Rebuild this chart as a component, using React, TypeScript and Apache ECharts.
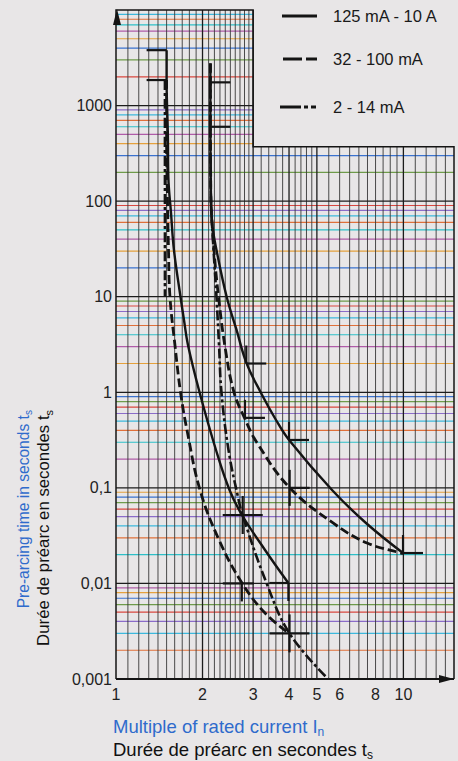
import React, { useEffect, useRef } from 'react';
import * as echarts from 'echarts';

// ---------- axes ----------
const X_MIN = 1;
const X_MAX = 15;
const Y_MIN = 0.001;
const Y_MAX = 10000;
const STEP_X = 3; // grid is cut back above this current multiple
const STEP_Y = 370; // grid height right of STEP_X

const X_TICK_VALUES = [1, 2, 3, 4, 5, 6, 8, 10];
const X_TICK_LABELS = ['1', '2', '3', '4', '5', '6', '8', '10'];
const Y_DECADES = [0.001, 0.01, 0.1, 1, 10, 100, 1000, 10000];
const Y_TICK_LABELS = ['0,001', '0,01', '0,1', '1', '10', '100', '1000', ''];

const X_GRID_LINES = [
  1.1, 1.2, 1.3, 1.4, 1.5, 1.6, 1.7, 1.8, 1.9, 2,
  2.1, 2.2, 2.3, 2.4, 2.5, 2.6, 2.7, 2.8, 2.9, 3,
  3.2, 3.4, 3.6, 3.8, 4, 4.2, 4.4, 4.6, 4.8, 5,
  5.5, 6, 6.5, 7, 7.5, 8, 8.5, 9, 9.5, 10,
  11, 12, 13, 14,
];
const X_GRID_MAJOR = [2, 3, 4, 5, 10];
const Y_GRID_MULTIPLIERS = [2, 3, 4, 5, 6, 7, 8, 9];

// ---------- curves (multiple of In, pre-arcing time s) ----------
const SOLID_MIN = [
  [1.5, 3800], [1.5, 1850], [1.515, 500], [1.521, 179], [1.554, 75], [1.591, 30.8],
  [1.677, 9.93], [1.724, 5.71], [1.78, 3.12], [1.953, 1.0], [2.228, 0.249], [2.483, 0.095],
  [2.744, 0.052], [3.3, 0.0224], [3.978, 0.0101],
];
const SOLID_MAX = [
  [2.13, 2750], [2.13, 500], [2.135, 200], [2.14, 100], [2.165, 55], [2.237, 30.8],
  [2.428, 9.93], [2.627, 4.49], [2.845, 2.02], [3.196, 0.984], [3.604, 0.513], [4.0, 0.317],
  [5.645, 0.095], [7.41, 0.0429], [9.97, 0.0208],
];
const DASH_MIN = [
  [1.5, 1850], [1.5, 400], [1.511, 100], [1.523, 30.8], [1.541, 9.93], [1.605, 3.05],
  [1.677, 1.0], [1.766, 0.403], [1.96, 0.095], [2.283, 0.0285], [2.744, 0.0101],
  [3.3, 0.0049], [4.0, 0.003],
];
const DASH_MAX = [
  [2.13, 2750], [2.13, 500], [2.135, 200], [2.141, 100], [2.193, 30.8], [2.274, 9.93],
  [2.405, 2.77], [2.574, 1.0], [2.8, 0.538], [3.083, 0.302], [4.0, 0.102], [5.69, 0.0429],
  [7.47, 0.0265], [9.81, 0.0208], [10, 0.0206],
];
const DASHDOT_MIN = [
  [1.48, 1850], [1.48, 10],
];
const DASHDOT_MAX = [
  [2.13, 2750], [2.13, 500], [2.135, 200], [2.141, 100], [2.185, 30.8], [2.237, 9.93],
  [2.283, 3.12], [2.328, 1.0], [2.463, 0.249], [2.658, 0.08], [2.756, 0.052], [3.34, 0.0101],
  [4.015, 0.003], [5.47, 0.001],
];

// tolerance marks: [multiple, time, shape]
const MARKS: [number, number, string][] = [
  [1.5, 3800, 'L'],
  [1.5, 1850, 'L'],
  [2.13, 1750, 'R'],
  [2.13, 600, 'R'],
  [2.84, 2.0, 'UR'],
  [2.81, 0.54, 'UR'],
  [4.0, 0.317, 'UR'],
  [4.02, 0.1, 'UDR'],
  [9.97, 0.0208, 'UR'],
  [2.76, 0.052, 'X'],
  [2.74, 0.01, 'T'],
  [3.98, 0.0101, 'DL'],
  [4.015, 0.003, 'X'],
];

const LEGEND_LABELS = ['125 mA - 10 A', '32 - 100 mA', '2 - 14 mA'];

// ---------- styles ----------
const FONT = '"Liberation Sans", Arial, Helvetica, sans-serif';
const PAPER = '#e8e6e7';
const INK = '#141414';
const BLUE = '#2f6bcc';
const MINOR_COLORS = ['#e0703a', '#3cb9dd', '#8b6cc9', '#d9473f', '#6e9b4a', '#3a72cf', '#e5a13c', '#b05ca8', '#2ec0c8'];
const DASHED = [9, 4];
const DASHDOT = [10, 3, 3, 3];

const MARK_SHAPES: Record<string, number[][]> = {
  L: [[-20, 0, 0, 0]],
  R: [[0, 0, 20, 0]],
  UR: [[0, 0, 0, -18], [0, 0, 20, 0]],
  UDR: [[0, -18, 0, 18], [0, 0, 20, 0]],
  X: [[-20, 0, 20, 0], [0, -19, 0, 19]],
  T: [[-19, 0, 12, 0], [0, 0, 0, 18]],
  DL: [[-19, 0, 0, 0], [0, 0, 0, 18]],
};

function renderGrid(_params: any, api: any) {
  const ch: any[] = [];
  const P = (x: number, y: number) => api.coord([x, y]);
  const seg = (a: number[], b: number[], stroke: string, w: number) =>
    ch.push({ type: 'line', silent: true, shape: { x1: a[0], y1: a[1], x2: b[0], y2: b[1] }, style: { stroke, lineWidth: w } });

  let k = 0;
  Y_DECADES.slice(0, -1).forEach((d) => {
    Y_GRID_MULTIPLIERS.forEach((m) => {
      const v = d * m;
      const right = v > STEP_Y ? STEP_X : X_MAX;
      seg(P(X_MIN, v), P(right, v), MINOR_COLORS[k % MINOR_COLORS.length], 1.2);
      k++;
    });
  });
  X_GRID_LINES.forEach((v) => {
    const top = v <= STEP_X ? Y_MAX : STEP_Y;
    const major = X_GRID_MAJOR.indexOf(v) >= 0;
    seg(P(v, Y_MIN), P(v, top), major ? '#1c1c1c' : '#383838', major ? 1.3 : 0.9);
  });
  Y_DECADES.forEach((d) => {
    if (d <= Y_MIN || d >= Y_MAX) return;
    const right = d > STEP_Y ? STEP_X : X_MAX;
    seg(P(X_MIN, d), P(right, d), '#1c1c1c', 1.3);
  });
  ch.push({
    type: 'polyline', silent: true,
    shape: { points: [P(X_MIN, Y_MIN), P(X_MIN, Y_MAX), P(STEP_X, Y_MAX), P(STEP_X, STEP_Y), P(X_MAX, STEP_Y), P(X_MAX, Y_MIN)] },
    style: { stroke: INK, lineWidth: 1.5, fill: null },
  });
  seg(P(X_MIN, Y_MIN), P(X_MAX, Y_MIN), INK, 1.8);
  const t = P(X_MIN, Y_MAX);
  ch.push({ type: 'polygon', silent: true, shape: { points: [[t[0] + 1, t[1] - 1], [t[0] - 3, t[1] + 15], [t[0] + 5, t[1] + 15]] }, style: { fill: INK } });
  const r = P(X_MAX, Y_MIN);
  ch.push({ type: 'polygon', silent: true, shape: { points: [[r[0], r[1]], [r[0] - 15, r[1] - 4], [r[0] - 15, r[1] + 4]] }, style: { fill: INK } });
  X_TICK_VALUES.forEach((v, i) => {
    const p = P(v, Y_MIN);
    ch.push({
      type: 'text', silent: true, x: p[0], y: p[1] + 7,
      style: { text: X_TICK_LABELS[i], align: 'center', verticalAlign: 'top', fontSize: 16, fontFamily: FONT, fill: '#222' },
    });
  });
  return { type: 'group', children: ch };
}

function renderMarks(params: any, api: any) {
  const m = MARKS[params.dataIndex];
  const p = api.coord([m[0], m[1]]);
  const segs = MARK_SHAPES[m[2]] || [];
  return {
    type: 'group',
    children: segs.map((s) => ({
      type: 'line', silent: true,
      shape: { x1: p[0] + s[0], y1: p[1] + s[1], x2: p[0] + s[2], y2: p[1] + s[3] },
      style: { stroke: INK, lineWidth: 2.2 },
    })),
  };
}

function curve(name: string, data: number[][], type: any, width: number) {
  return {
    type: 'line', name, data, showSymbol: false, symbol: 'none', smooth: 0.4,
    lineStyle: { color: INK, width, type, cap: 'butt' }, z: 3, silent: true,
  };
}

function richTitle(main: string, sub: string, color: string, size: number) {
  return {
    text: `{a|${main}}{b|${sub}}`,
    fill: color,
    rich: {
      a: { fontSize: size, fontFamily: FONT, fill: color, lineHeight: size + 6 },
      b: { fontSize: size * 0.65, fontFamily: FONT, fill: color, lineHeight: size * 0.65, verticalAlign: 'bottom' },
    },
  };
}

export default function App() {
  const ref = useRef<HTMLDivElement>(null);
  useEffect(() => {
    document.body.style.margin = '0';
    document.body.style.background = PAPER;
    if (!ref.current) return;
    const chart = echarts.init(ref.current, undefined, { renderer: 'svg' });
    const legendY = [16, 59, 107];
    chart.setOption({
      animation: false,
      backgroundColor: PAPER,
      grid: { left: 116, right: 4, top: 10, bottom: 82, containLabel: false },
      xAxis: { type: 'log', min: X_MIN, max: X_MAX, show: false },
      yAxis: {
        type: 'log', min: Y_MIN, max: Y_MAX,
        axisLine: { show: false }, axisTick: { show: false }, splitLine: { show: false },
        axisLabel: {
          margin: 4, fontSize: 16, fontFamily: FONT, color: '#222',
          formatter: (v: number) => {
            const i = Y_DECADES.findIndex((d) => Math.abs(Math.log10(d) - Math.log10(v)) < 1e-6);
            return i >= 0 ? Y_TICK_LABELS[i] : '';
          },
        },
      },
      series: [
        { type: 'custom', name: 'grid', data: [[X_MIN, Y_MIN]], renderItem: renderGrid, z: 1, silent: true, clip: false },
        curve('2 - 14 mA min', DASHDOT_MIN, DASHDOT, 2.6),
        curve('2 - 14 mA max', DASHDOT_MAX, DASHDOT, 2.6),
        curve('32 - 100 mA min', DASH_MIN, DASHED, 2.8),
        curve('32 - 100 mA max', DASH_MAX, DASHED, 2.8),
        curve('125 mA - 10 A min', SOLID_MIN, 'solid', 2.4),
        curve('125 mA - 10 A max', SOLID_MAX, 'solid', 2.4),
        { type: 'custom', name: 'marks', data: MARKS.map((m) => [m[0], m[1]]), renderItem: renderMarks, z: 4, silent: true, clip: false },
      ],
      graphic: [
        { type: 'line', shape: { x1: 282, y1: legendY[0], x2: 317, y2: legendY[0] }, style: { stroke: INK, lineWidth: 3 } },
        { type: 'line', shape: { x1: 283, y1: legendY[1], x2: 317, y2: legendY[1] }, style: { stroke: INK, lineWidth: 3, lineDash: [19, 4] } },
        { type: 'line', shape: { x1: 280, y1: legendY[2], x2: 316, y2: legendY[2] }, style: { stroke: INK, lineWidth: 3, lineDash: [21, 3, 4, 3] } },
        ...LEGEND_LABELS.map((t, i) => ({
          type: 'text', x: 333, y: legendY[i],
          style: { text: t, fontSize: 16.5, fontFamily: FONT, fill: '#1a1a1a', align: 'left', verticalAlign: 'middle' },
        })),
        { type: 'text', x: 23, y: 410, rotation: Math.PI / 2, style: { ...richTitle('Pre-arcing time in seconds t', 's', BLUE, 15.6), align: 'right', verticalAlign: 'middle' } },
        { type: 'text', x: 43, y: 410, rotation: Math.PI / 2, style: { ...richTitle('Durée de préarc en secondes t', 's', '#111', 16.8), align: 'right', verticalAlign: 'middle' } },
        { type: 'text', x: 113, y: 726, style: { ...richTitle('Multiple of rated current I', 'n', BLUE, 18.5), align: 'left', verticalAlign: 'middle' } },
        { type: 'text', x: 113, y: 749, style: { ...richTitle('Durée de préarc en secondes t', 's', '#111', 18.5), align: 'left', verticalAlign: 'middle' } },
      ],
    });
    return () => chart.dispose();
  }, []);
  return <div ref={ref} style={{ width: 458, height: 761, background: PAPER }} />;
}
